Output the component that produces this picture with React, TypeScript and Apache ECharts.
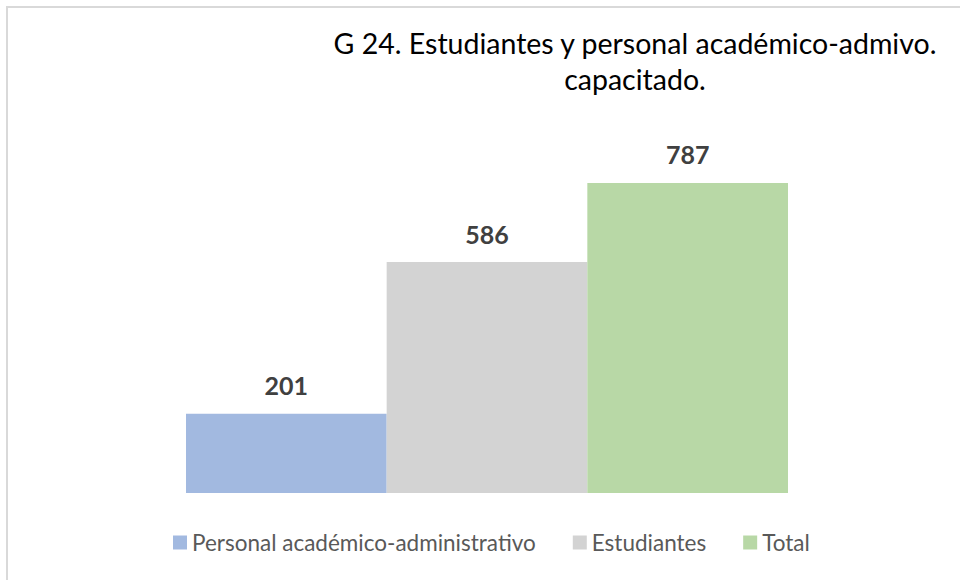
import React, { useEffect, useRef } from "react";
import * as echarts from "echarts";

const categories = [""];
const seriesNames = ["Personal académico-administrativo", "Estudiantes", "Total"];
const seriesValues = [201, 586, 787];
const seriesColors = ["#a2b9e0", "#d3d3d3", "#b8d8a6"];
const titleLines = ["G 24. Estudiantes y personal académico-admivo.", "capacitado."];

export default function App() {
  const ref = useRef<HTMLDivElement>(null);
  useEffect(() => {
    if (!ref.current) return;
    const chart = echarts.init(ref.current, null, { renderer: "svg" });
    const font = "Lato, 'Noto Sans', sans-serif";
    chart.setOption({
      animation: false,
      backgroundColor: "#ffffff",
      title: {
        text: titleLines.join("\n"),
        left: 630,
        top: 20,
        textAlign: "center",
        textStyle: { fontFamily: font, fontSize: 28.5, fontWeight: "normal", color: "#000000", lineHeight: 36 },
      },
      graphic: [
        {
          type: "rect",
          shape: { x: 7, y: 7, width: 1000, height: 1000 },
          style: { fill: "none", stroke: "#d9d9d9", lineWidth: 2 },
          silent: true,
        },
      ],
      legend: {
        bottom: 21,
        left: 168,
        itemWidth: 14,
        itemHeight: 14,
        itemGap: 37,
        icon: "rect",
        textStyle: { fontFamily: font, fontSize: 22.5, color: "#595959" },
        data: seriesNames,
      },
      grid: { left: 186, right: 172, top: 99, bottom: 87 },
      xAxis: {
        type: "category",
        data: categories,
        axisLine: { show: false },
        axisTick: { show: false },
        axisLabel: { show: false },
      },
      yAxis: { type: "value", min: 0, max: 1000, show: false, splitLine: { show: false } },
      series: seriesNames.map((name, i) => ({
        name,
        type: "bar",
        barGap: "0%",
        barCategoryGap: "0%",
        data: [seriesValues[i]],
        itemStyle: { color: seriesColors[i] },
        label: {
          show: true,
          position: "top",
          distance: 16,
          fontFamily: font,
          fontSize: 25,
          fontWeight: "bold",
          color: "#404040",
        },
      })),
    });
    return () => chart.dispose();
  }, []);
  return (
    <div
      ref={ref}
      style={{ position: "fixed", left: 0, top: 0, width: 960, height: 580 }}
    />
  );
}
